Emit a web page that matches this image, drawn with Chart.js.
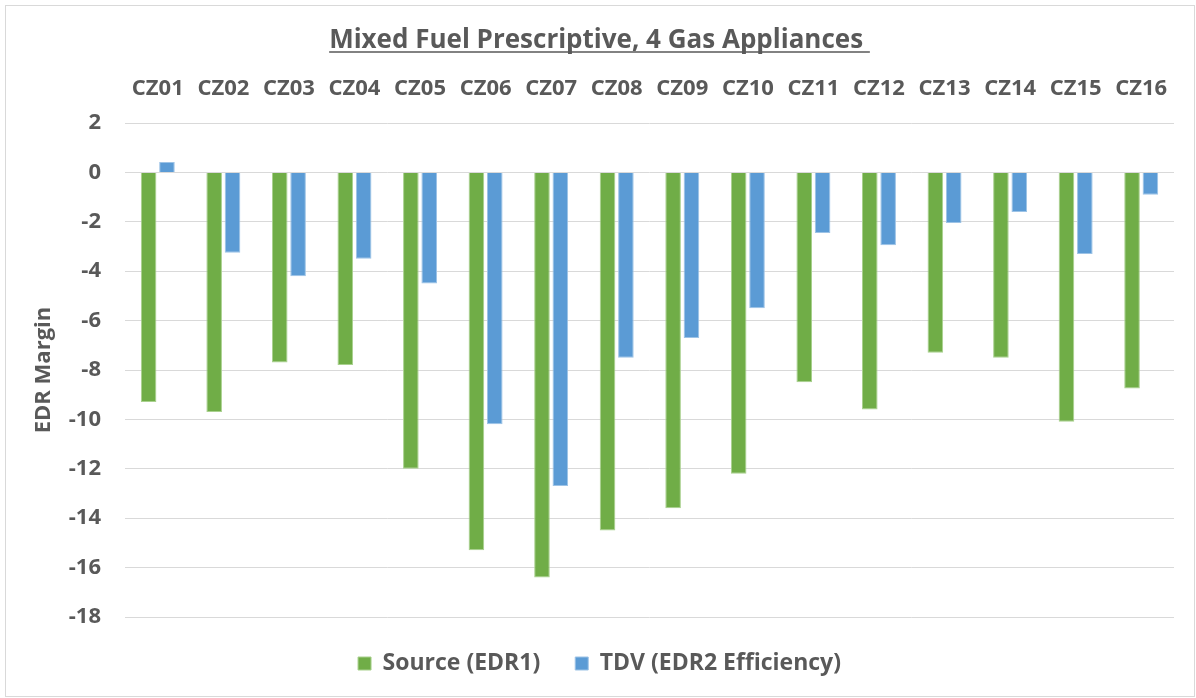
<!DOCTYPE html>
<html>
<head>
<meta charset="utf-8">
<script src="https://cdn.jsdelivr.net/npm/chart.js@4.4.1/dist/chart.umd.min.js"></script>
<style>
  html, body { margin: 0; padding: 0; background: #fff; }
  #wrap { width: 1196px; height: 698px; position: relative; }
</style>
</head>
<body>
<div id="wrap"><canvas id="c"></canvas></div>
<script>
const zones = ['CZ01', 'CZ02', 'CZ03', 'CZ04', 'CZ05', 'CZ06', 'CZ07', 'CZ08',
               'CZ09', 'CZ10', 'CZ11', 'CZ12', 'CZ13', 'CZ14', 'CZ15', 'CZ16']
const sourceEdr1 = [-9.3, -9.7, -7.7, -7.8, -12.0, -15.3, -16.4, -14.5,
                    -13.6, -12.2, -8.5, -9.6, -7.3, -7.5, -10.1, -8.75]
const tdvEdr2 = [0.42, -3.25, -4.2, -3.5, -4.5, -10.2, -12.7, -7.5,
                 -6.7, -5.5, -2.45, -2.95, -2.05, -1.6, -3.3, -0.9]
const yTicks = [2, 0, -2, -4, -6, -8, -10, -12, -14, -16, -18]

const TXT = '#595959'
const FONT = "'Open Sans', Lato, sans-serif"
const TITLE = 'Mixed Fuel Prescriptive, 4 Gas Appliances '
const TITLE_PAD_TOP = 16

// white background + thin grey frame like the Excel chart area
const frame = {
  id: 'frame',
  beforeDraw(chart) {
    const ctx = chart.ctx
    ctx.save()
    ctx.fillStyle = '#fff'
    ctx.fillRect(0, 0, chart.width, chart.height)
    ctx.strokeStyle = '#d9d9d9'
    ctx.lineWidth = 1
    ctx.strokeRect(5.5, 5.5, 1189, 691)
    ctx.restore()
  },
}

// Chart.js titles can't be underlined, so draw the line by hand
const underline = {
  id: 'underline',
  afterDraw(chart) {
    const t = chart.titleBlock
    if (!t) return
    const ctx = chart.ctx
    const f = Chart.helpers.toFont(t.options.font)
    ctx.save()
    ctx.font = f.string
    const w = ctx.measureText(TITLE).width
    const cx = t.left + t.width / 2
    const y = t.top + TITLE_PAD_TOP + f.lineHeight / 2 + f.size * 0.45
    ctx.strokeStyle = TXT
    ctx.lineWidth = 1.5
    ctx.beginPath()
    ctx.moveTo(cx - w / 2, y)
    ctx.lineTo(cx + w / 2, y)
    ctx.stroke()
    ctx.restore()
  },
}

new Chart(document.getElementById('c'), {
  type: 'bar',
  data: {
    labels: zones,
    datasets: [
      { label: 'Source (EDR1)', data: sourceEdr1, backgroundColor: '#70AD47', borderColor: '#A9D18E', borderWidth: 1 },
      { label: 'TDV (EDR2 Efficiency)', data: tdvEdr2, backgroundColor: '#5B9BD5', borderColor: '#9DC3E6', borderWidth: 1 },
    ],
  },
  options: {
    responsive: true,
    maintainAspectRatio: false,
    animation: false,
    datasets: { bar: { categoryPercentage: 0.56, barPercentage: 0.85 } },
    layout: { padding: { top: 10, left: 25, right: 22, bottom: 13 } },
    plugins: {
      title: {
        display: true,
        text: TITLE,
        color: TXT,
        font: { family: FONT, size: 26, weight: 'bold', lineHeight: 1.1 },
        padding: { top: TITLE_PAD_TOP, bottom: 0 },
      },
      legend: {
        position: 'bottom',
        labels: {
          color: TXT,
          boxWidth: 13,
          boxHeight: 13,
          padding: 35,
          font: { family: FONT, size: 23, weight: 'bold' },
        },
      },
      tooltip: { enabled: false },
    },
    scales: {
      x: {
        position: 'top',
        grid: { display: false, drawTicks: false },
        border: { display: false },
        ticks: { color: TXT, padding: 21, font: { family: FONT, size: 22, weight: 'bold' } },
      },
      y: {
        min: -18,
        max: 2,
        afterBuildTicks: s => { s.ticks = yTicks.map(v => ({ value: v })) },
        afterFit: s => { s.width = 100 },
        grid: { color: '#d9d9d9', drawTicks: false },
        border: { display: false },
        ticks: { color: TXT, padding: 24, font: { family: FONT, size: 22, weight: 'bold' } },
        title: {
          display: true,
          text: 'EDR Margin',
          color: TXT,
          padding: { top: 6, bottom: 0 },
          font: { family: FONT, size: 22, weight: 'bold' },
        },
      },
    },
  },
  plugins: [frame, underline],
})
</script>
</body>
</html>
